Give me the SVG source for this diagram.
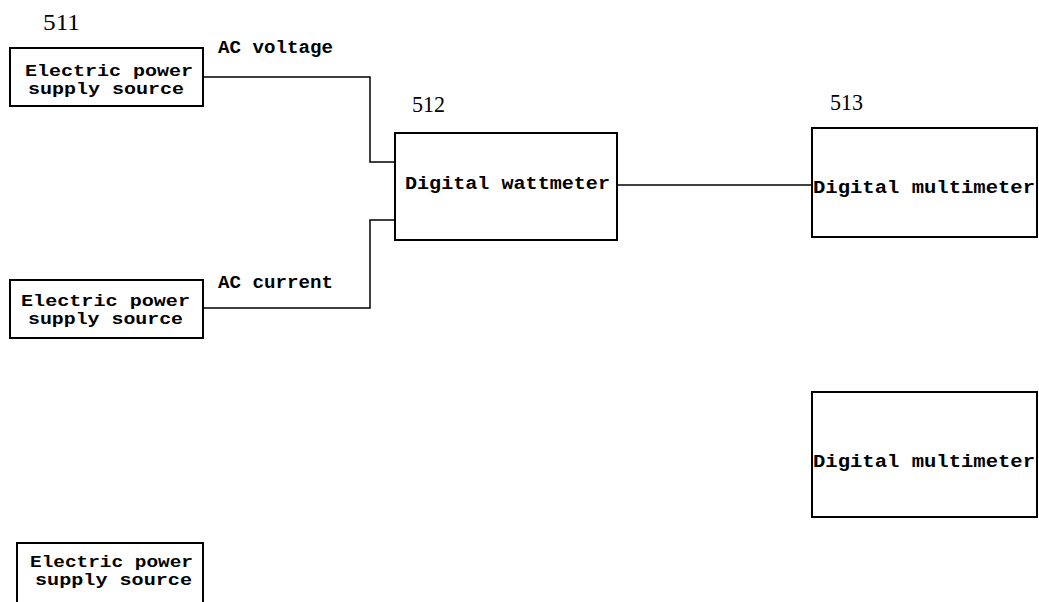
<svg xmlns="http://www.w3.org/2000/svg" width="1039" height="602" viewBox="0 0 1039 602">
<style>
.box{fill:none;stroke:#000;stroke-width:2}
.wire{fill:none;stroke:#000;stroke-width:1.5}
.t{font-family:"Liberation Mono",monospace;font-weight:bold;font-size:18px;fill:#000}
.s{font-size:16px}
.n{font-family:"Liberation Serif",serif;font-size:24px;fill:#000}
</style>
<rect width="1039" height="602" fill="#fff"/>
<g id="connectors">
<polyline class="wire" points="203,77 370,77 370,162 395,162"/>
<polyline class="wire" points="203,308 370,308 370,220 395,220"/>
<line class="wire" x1="617" y1="185" x2="812" y2="185"/>
<text class="t" x="218" y="53" textLength="115" lengthAdjust="spacingAndGlyphs">AC voltage</text>
<text class="t" x="218" y="288" textLength="115" lengthAdjust="spacingAndGlyphs">AC current</text>
</g>
<g id="node-511">
<text class="n" x="43" y="30" textLength="37" lengthAdjust="spacingAndGlyphs">511</text>
<rect class="box" x="10" y="48" width="193" height="58"/>
<text class="t s" x="25" y="76" textLength="168" lengthAdjust="spacingAndGlyphs">Electric power</text>
<text class="t s" x="28" y="94" textLength="156" lengthAdjust="spacingAndGlyphs">supply source</text>
</g>
<g id="node-supply-2">
<rect class="box" x="10" y="280" width="193" height="58"/>
<text class="t s" x="21" y="306" textLength="169" lengthAdjust="spacingAndGlyphs">Electric power</text>
<text class="t s" x="28" y="324" textLength="155" lengthAdjust="spacingAndGlyphs">supply source</text>
</g>
<g id="node-supply-3">
<polyline class="box" points="17,604 17,543 203,543 203,604"/>
<text class="t s" x="30" y="567" textLength="163" lengthAdjust="spacingAndGlyphs">Electric power</text>
<text class="t s" x="35" y="585" textLength="157" lengthAdjust="spacingAndGlyphs">supply source</text>
</g>
<g id="node-512">
<text class="n" x="412" y="112" textLength="33" lengthAdjust="spacingAndGlyphs">512</text>
<rect class="box" x="395" y="133" width="222" height="107"/>
<text class="t" x="405" y="189" textLength="205" lengthAdjust="spacingAndGlyphs">Digital wattmeter</text>
</g>
<g id="node-513">
<text class="n" x="830" y="110" textLength="33" lengthAdjust="spacingAndGlyphs">513</text>
<rect class="box" x="812" y="128" width="225" height="109"/>
<text class="t" x="813" y="193" textLength="222" lengthAdjust="spacingAndGlyphs">Digital multimeter</text>
</g>
<g id="node-multimeter-2">
<rect class="box" x="812" y="392" width="225" height="125"/>
<text class="t" x="813" y="467" textLength="222" lengthAdjust="spacingAndGlyphs">Digital multimeter</text>
</g>
</svg>
